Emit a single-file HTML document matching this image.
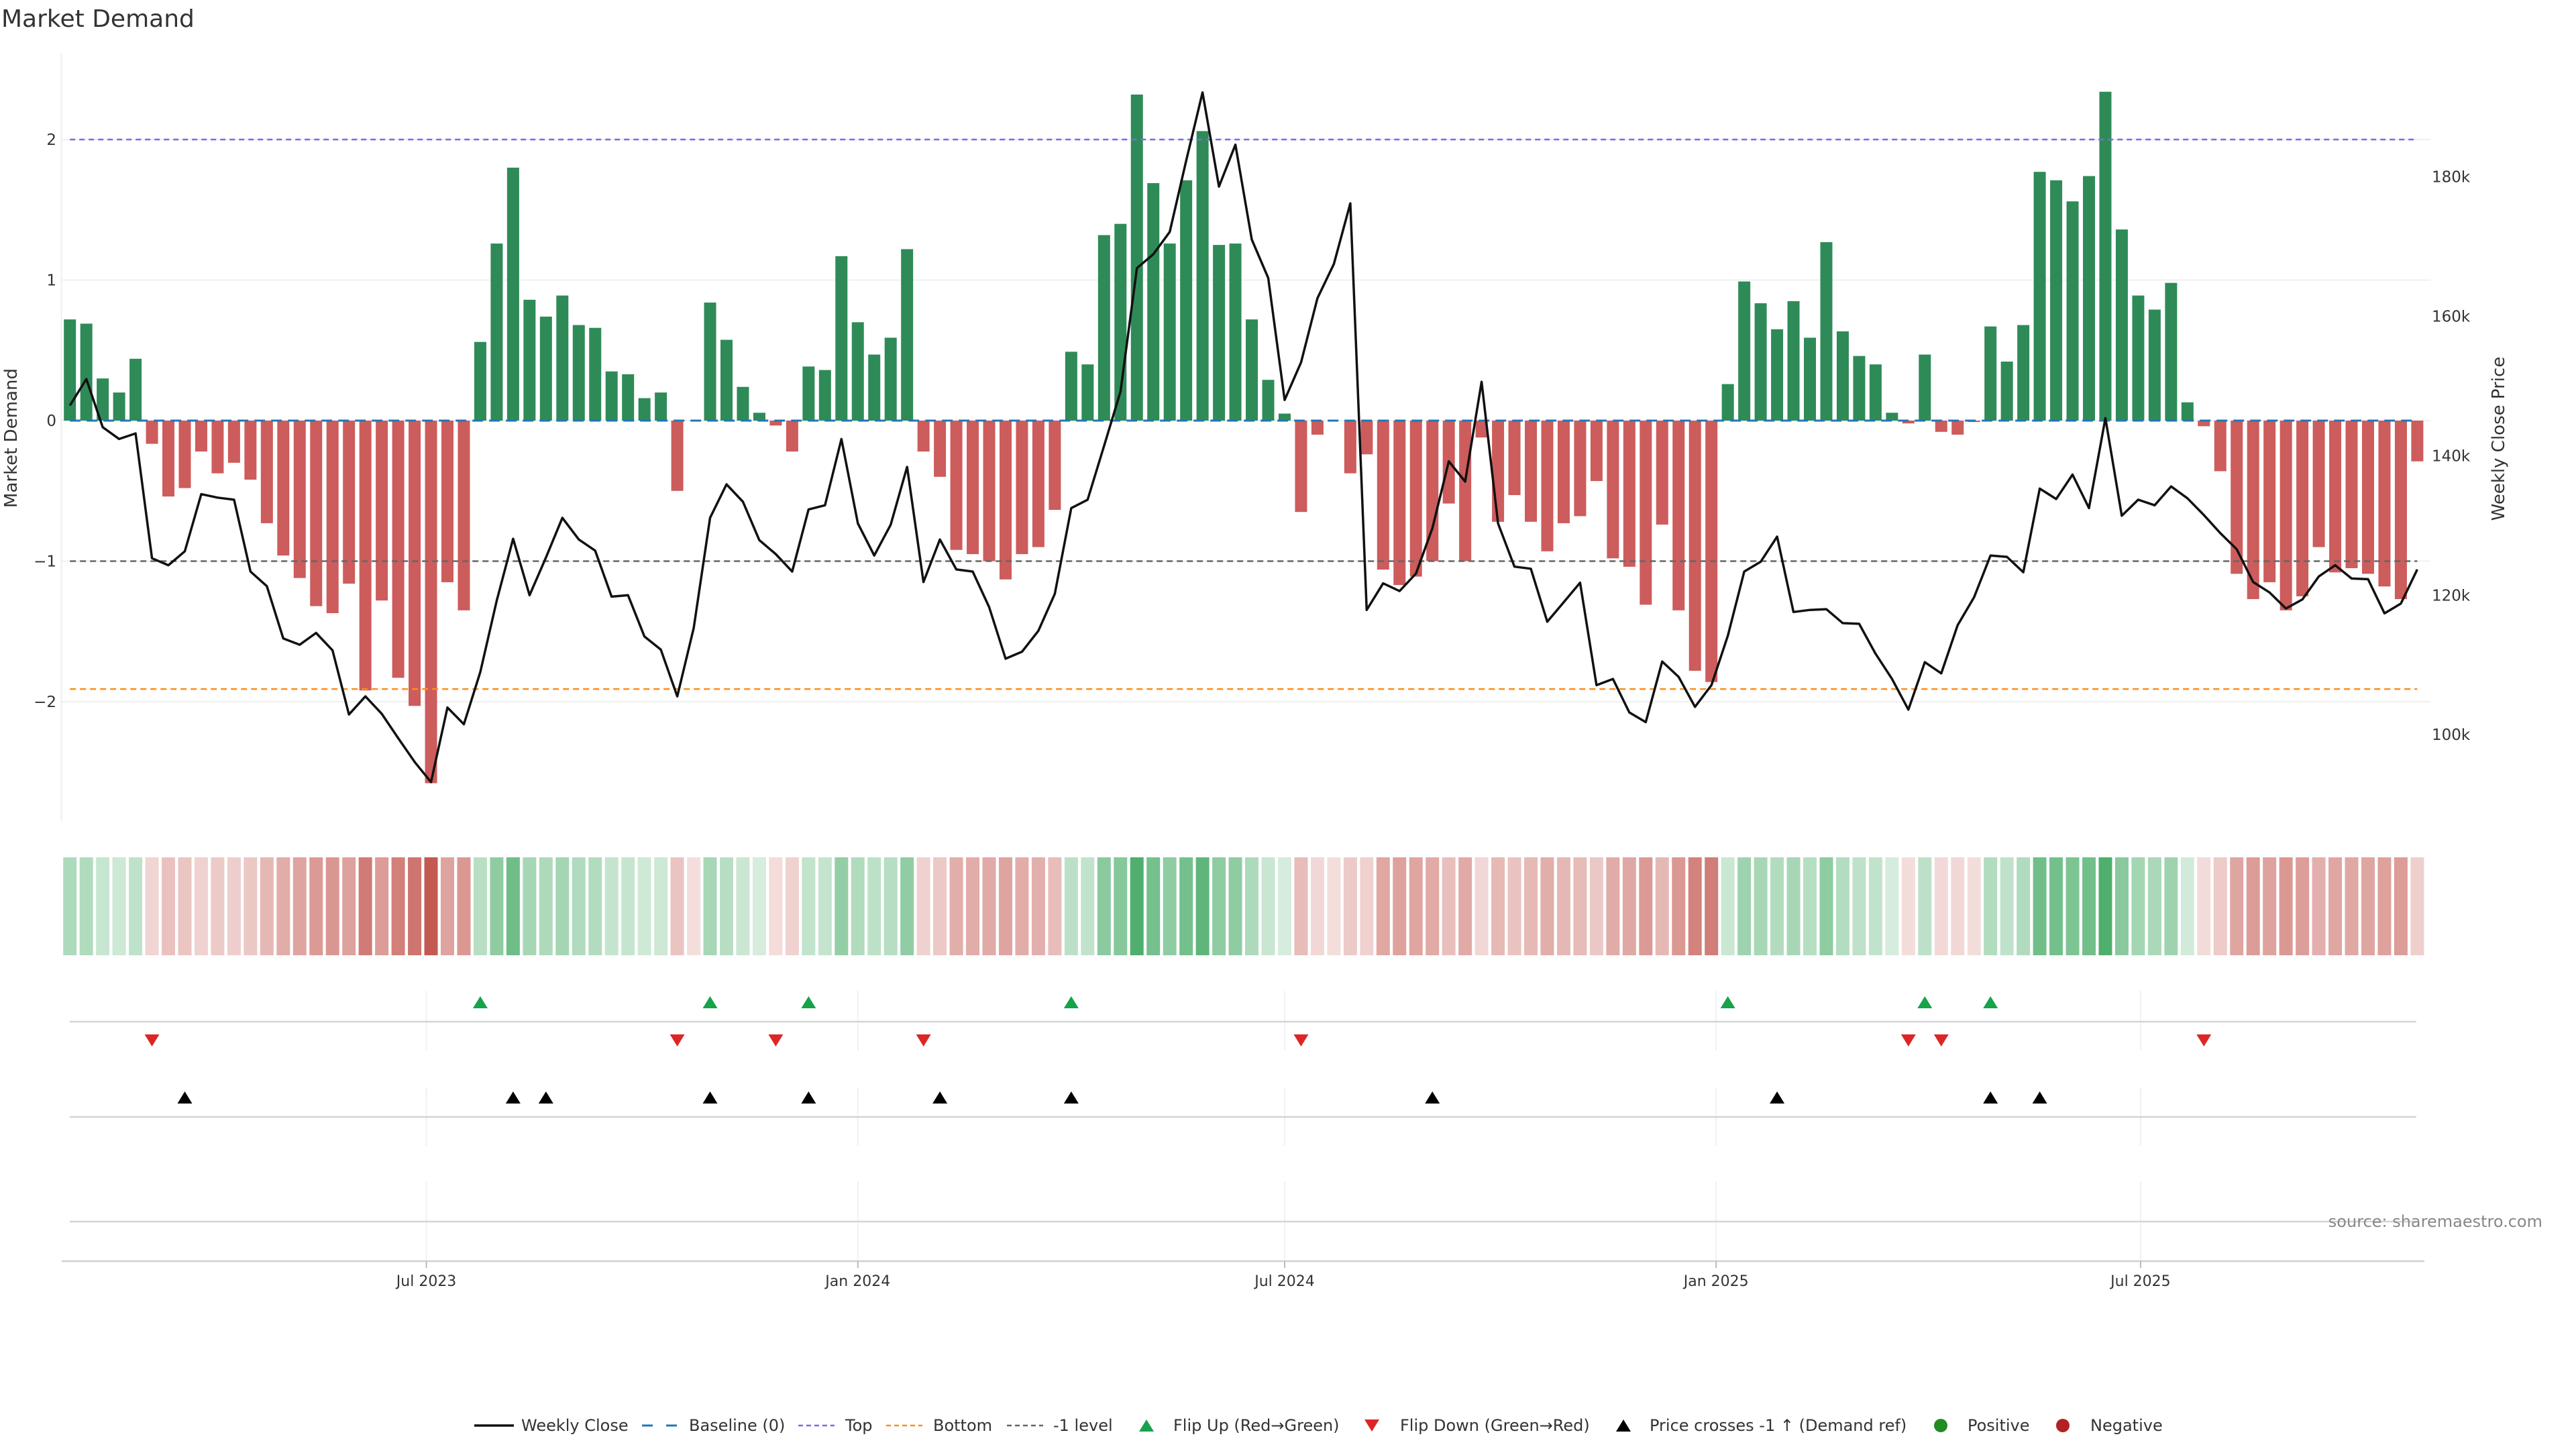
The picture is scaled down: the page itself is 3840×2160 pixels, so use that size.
<!DOCTYPE html>
<html><head><meta charset="utf-8"><title>Market Demand</title>
<style>
html,body{margin:0;padding:0;background:#fff;}
svg{display:block;font-family:"DejaVu Sans","Liberation Sans",sans-serif;}
</style></head>
<body>
<svg id="chart" width="3840" height="2160" viewBox="0 0 3840 2160" xmlns="http://www.w3.org/2000/svg">
<text x="2" y="40" font-size="36" fill="#333">Market Demand</text>
<g id="grid"></g>
<g id="bars"></g>
<g id="refs"></g>
<g id="price"></g>
<g id="axes"></g>
<g id="strip"></g>
<g id="events"></g>
<text x="3790" y="1829" font-size="24" fill="#888" text-anchor="end">source: sharemaestro.com</text>
<g id="legend"></g>
</svg>
<script>
const demand = [0.72,0.69,0.30,0.20,0.44,-0.165,-0.54,-0.48,-0.22,-0.375,-0.30,-0.42,-0.73,-0.96,-1.12,-1.32,-1.37,-1.16,-1.92,-1.28,-1.83,-2.03,-2.58,-1.15,-1.35,0.56,1.26,1.80,0.86,0.74,0.89,0.68,0.66,0.35,0.33,0.16,0.20,-0.50,0,0.84,0.575,0.24,0.056,-0.035,-0.22,0.385,0.36,1.17,0.70,0.47,0.59,1.22,-0.22,-0.40,-0.92,-0.95,-1.0,-1.13,-0.95,-0.90,-0.635,0.49,0.40,1.32,1.40,2.32,1.69,1.26,1.71,2.06,1.25,1.26,0.72,0.29,0.05,-0.65,-0.10,0,-0.375,-0.24,-1.06,-1.17,-1.11,-1.0,-0.59,-1.0,-0.12,-0.72,-0.53,-0.72,-0.93,-0.73,-0.68,-0.43,-0.98,-1.04,-1.31,-0.74,-1.35,-1.78,-1.86,0.26,0.99,0.835,0.65,0.85,0.59,1.27,0.635,0.46,0.40,0.056,-0.02,0.47,-0.08,-0.10,-0.01,0.67,0.42,0.68,1.77,1.71,1.56,1.74,2.34,1.36,0.89,0.79,0.98,0.13,-0.04,-0.36,-1.09,-1.27,-1.15,-1.35,-1.25,-0.90,-1.08,-1.05,-1.09,-1.18,-1.27,-0.29];
const priceK = [147.2,151.0,144.1,142.4,143.2,125.3,124.3,126.3,134.5,134.0,133.7,123.4,121.3,113.8,112.9,114.6,112.1,102.9,105.5,103.0,99.5,96.1,93.2,103.9,101.5,109.0,119.2,128.1,120.0,125.4,131.1,128.0,126.4,119.8,120.0,114.1,112.2,105.5,115.3,131.1,135.9,133.4,127.9,125.9,123.4,132.3,132.9,142.4,130.3,125.7,130.1,138.4,121.9,128.0,123.7,123.4,118.3,110.9,111.9,114.9,120.2,132.5,133.7,141.4,149.2,166.9,168.9,172.1,182.3,192.1,178.6,184.6,171.0,165.5,148.0,153.4,162.6,167.5,176.2,117.9,121.7,120.6,123.1,129.6,139.2,136.3,150.6,130.3,124.1,123.8,116.2,119.0,121.8,107.1,108.0,103.2,101.8,110.5,108.3,104.0,107.1,114.2,123.4,124.8,128.4,117.6,117.9,118.0,116.0,115.9,111.6,108.0,103.6,110.4,108.8,115.7,119.7,125.7,125.5,123.3,135.3,133.8,137.3,132.5,145.4,131.4,133.7,132.9,135.6,133.9,131.5,128.9,126.6,121.9,120.4,118.1,119.4,122.7,124.3,122.4,122.3,117.4,118.8,123.7];
const leftTicks = [-2,-1,0,1,2];
const rightTicks = [100,120,140,160,180];
const rightTickLabels = ["100k","120k","140k","160k","180k"];
const dateTicks = ["2023-07-01","2024-01-01","2024-07-01","2025-01-01","2025-07-01"];
const dateTickLabels = ["Jul 2023","Jan 2024","Jul 2024","Jan 2025","Jul 2025"];
const startDate = "2023-01-30";
const topLevel = 2.0, bottomLevel = -1.91, minusOneLevel = -1.0;
const priceRefK = 124.9;

const NS = "http://www.w3.org/2000/svg";
function mk(parent, tag, attrs, text){const e=document.createElementNS(NS,tag);for(const k in attrs)e.setAttribute(k,attrs[k]);if(text!==undefined)e.textContent=text;parent.appendChild(e);return e;}
const X0=104.2, STEP=24.47, Y0=627, UNIT=209.5;
const xIdx = i => X0 + i*STEP;
const t0 = Date.parse(startDate+"T00:00:00Z");
const xDate = d => X0 + (Date.parse(d+"T00:00:00Z")-t0)/(7*86400000)*STEP;
const yL = v => Y0 - v*UNIT;
const yR = p => 679.4 - (p-140)*10.396;
const n = demand.length;
const xFirst = xIdx(0), xLast = xIdx(n-1);

const g = document.getElementById('grid');
leftTicks.forEach(t=>{const l=mk(g,'line',{x1:92,x2:3623,y1:yL(t),y2:yL(t),stroke:'#eef0f2','stroke-width':2});

});

const gb = document.getElementById('bars');
demand.forEach((v,i)=>{if(v===0)return;const y=v>=0?yL(v):yL(0);const h=Math.abs(yL(v)-yL(0));
const r=mk(gb,'rect',{x:xIdx(i)-9,y:y,width:18,height:h,fill:v>=0?'#2e8b57':'#cd5c5c'});

});

const gr = document.getElementById('refs');
const refDefs=[[0,'#1f77b4','16 9',3,'baseline-line'],[topLevel,'#7b68ee','8 6',2.5,'top-line'],[bottomLevel,'#ff8c1a','9 6',2.5,'bottom-line'],[minusOneLevel,'#666','9 6',2.5,'minus-one-line']];
refDefs.forEach(d=>{const l=mk(gr,'line',{x1:xFirst,x2:xLast,y1:yL(d[0]),y2:yL(d[0]),stroke:d[1],'stroke-dasharray':d[2],'stroke-width':d[3]});

});

const gp = document.getElementById('price');
const pl = mk(gp,'polyline',{points:priceK.map((p,i)=>xIdx(i).toFixed(1)+','+yR(p).toFixed(1)).join(' '),fill:'none',stroke:'#111','stroke-width':3.5,'stroke-linejoin':'round'});



const ga = document.getElementById('axes');
const al = mk(ga,'line',{x1:91.5,x2:91.5,y1:79,y2:1223,stroke:'#eceef0','stroke-width':2});


leftTicks.forEach(t=>{const tx=mk(ga,'text',{x:84,y:yL(t)+8,'font-size':23,fill:'#333','text-anchor':'end'},t<0?'\u2212'+Math.abs(t):String(t));

});
rightTicks.forEach((t,i)=>{const tx=mk(ga,'text',{x:3625,y:yR(t)+8,'font-size':23,fill:'#333'},rightTickLabels[i]);

});
const yl = mk(ga,'text',{x:0,y:0,'font-size':26,fill:'#333','text-anchor':'middle',transform:'translate(25,653) rotate(-90)'},'Market Demand');


const yr = mk(ga,'text',{x:0,y:0,'font-size':26,fill:'#333','text-anchor':'middle',transform:'translate(3733,654) rotate(-90)'},'Weekly Close Price');



const gs = document.getElementById('strip');
function mix(base,t){return 'rgb('+base.map(c=>Math.round(255*(1-t)+c*t)).join(',')+')';}
demand.forEach((v,i)=>{const t=0.2+0.8*Math.min(Math.abs(v)/2.6,1);
const r=mk(gs,'rect',{x:xIdx(i)-10,y:1278,width:20,height:146,fill:v>0?mix([64,168,96],t):mix([196,88,80],t)});

});

const ge = document.getElementById('events');
[[1477,1566],[1621,1708],[1761,1880]].forEach(seg=>{dateTicks.forEach(d=>{const l=mk(ge,'line',{x1:xDate(d),x2:xDate(d),y1:seg[0],y2:seg[1],stroke:'#f0f1f3','stroke-width':2});

});});
[1523,1665,1821].forEach(y=>{const l=mk(ge,'line',{x1:104,x2:3602,y1:y,y2:y,stroke:'#d4d4d4','stroke-width':2.5});

});
const xa = mk(ge,'line',{x1:92,x2:3614,y1:1880,y2:1880,stroke:'#d0d0d0','stroke-width':2.5});


dateTicks.forEach((d,i)=>{const x=xDate(d);mk(ge,'line',{x1:x,x2:x,y1:1880,y2:1890,stroke:'#bbb','stroke-width':2});
const tx=mk(ge,'text',{x:x,y:1917,'font-size':22,fill:'#333','text-anchor':'middle'},dateTickLabels[i]);

});
function tri(parent,x,y,up,color,name){const w=11,h=9;const pts=up?[[x-w,y+h],[x+w,y+h],[x,y-h]]:[[x-w,y-h],[x+w,y-h],[x,y+h]];
const p=mk(parent,'polygon',{points:pts.map(q=>q.join(',')).join(' '),fill:color});

return p;}
let lastSign=0;
demand.forEach((v,i)=>{if(v===0)return;const s=v>0?1:-1;
if(lastSign!==0&&s!==lastSign){if(s>0)tri(ge,xIdx(i),1494,true,'#16a34a','flip-up-marker');else tri(ge,xIdx(i),1551,false,'#dc2626','flip-down-marker');}
lastSign=s;});
priceK.forEach((p,i)=>{if(i>0&&priceK[i-1]<priceRefK&&p>=priceRefK)tri(ge,xIdx(i),1636,true,'#000','price-cross-marker');});

const gl = document.getElementById('legend');
const LY=2125;
function ltext(x,s){const t=mk(gl,'text',{x:x,y:LY+8,'font-size':24,fill:'#333'},s);

}
mk(gl,'line',{x1:707,x2:766,y1:LY,y2:LY,stroke:'#111','stroke-width':3.5});ltext(777,'Weekly Close');
mk(gl,'line',{x1:957,x2:1009,y1:LY,y2:LY,stroke:'#1f77b4','stroke-width':3,'stroke-dasharray':'16 20'});ltext(1027,'Baseline (0)');
mk(gl,'line',{x1:1190,x2:1244,y1:LY,y2:LY,stroke:'#7b68ee','stroke-width':2.5,'stroke-dasharray':'7 5'});ltext(1260,'Top');
mk(gl,'line',{x1:1321,x2:1375,y1:LY,y2:LY,stroke:'#ff8c1a','stroke-width':2.5,'stroke-dasharray':'7 5'});ltext(1391,'Bottom');
mk(gl,'line',{x1:1501,x2:1555,y1:LY,y2:LY,stroke:'#666','stroke-width':2.5,'stroke-dasharray':'7 5'});ltext(1570,'-1 level');
tri(gl,1709,LY,true,'#16a34a','legend-flip-up');ltext(1749,'Flip Up (Red\u2192Green)');
tri(gl,2045,LY,false,'#dc2626','legend-flip-down');ltext(2087,'Flip Down (Green\u2192Red)');
tri(gl,2420,LY,true,'#000','legend-price-cross');ltext(2459,'Price crosses -1 \u2191 (Demand ref)');
const c1=mk(gl,'circle',{cx:2893,cy:LY,r:10,fill:'#228b22'});


ltext(2933,'Positive');
const c2=mk(gl,'circle',{cx:3075,cy:LY,r:10,fill:'#b22222'});


ltext(3116,'Negative');
</script>
</body></html>
